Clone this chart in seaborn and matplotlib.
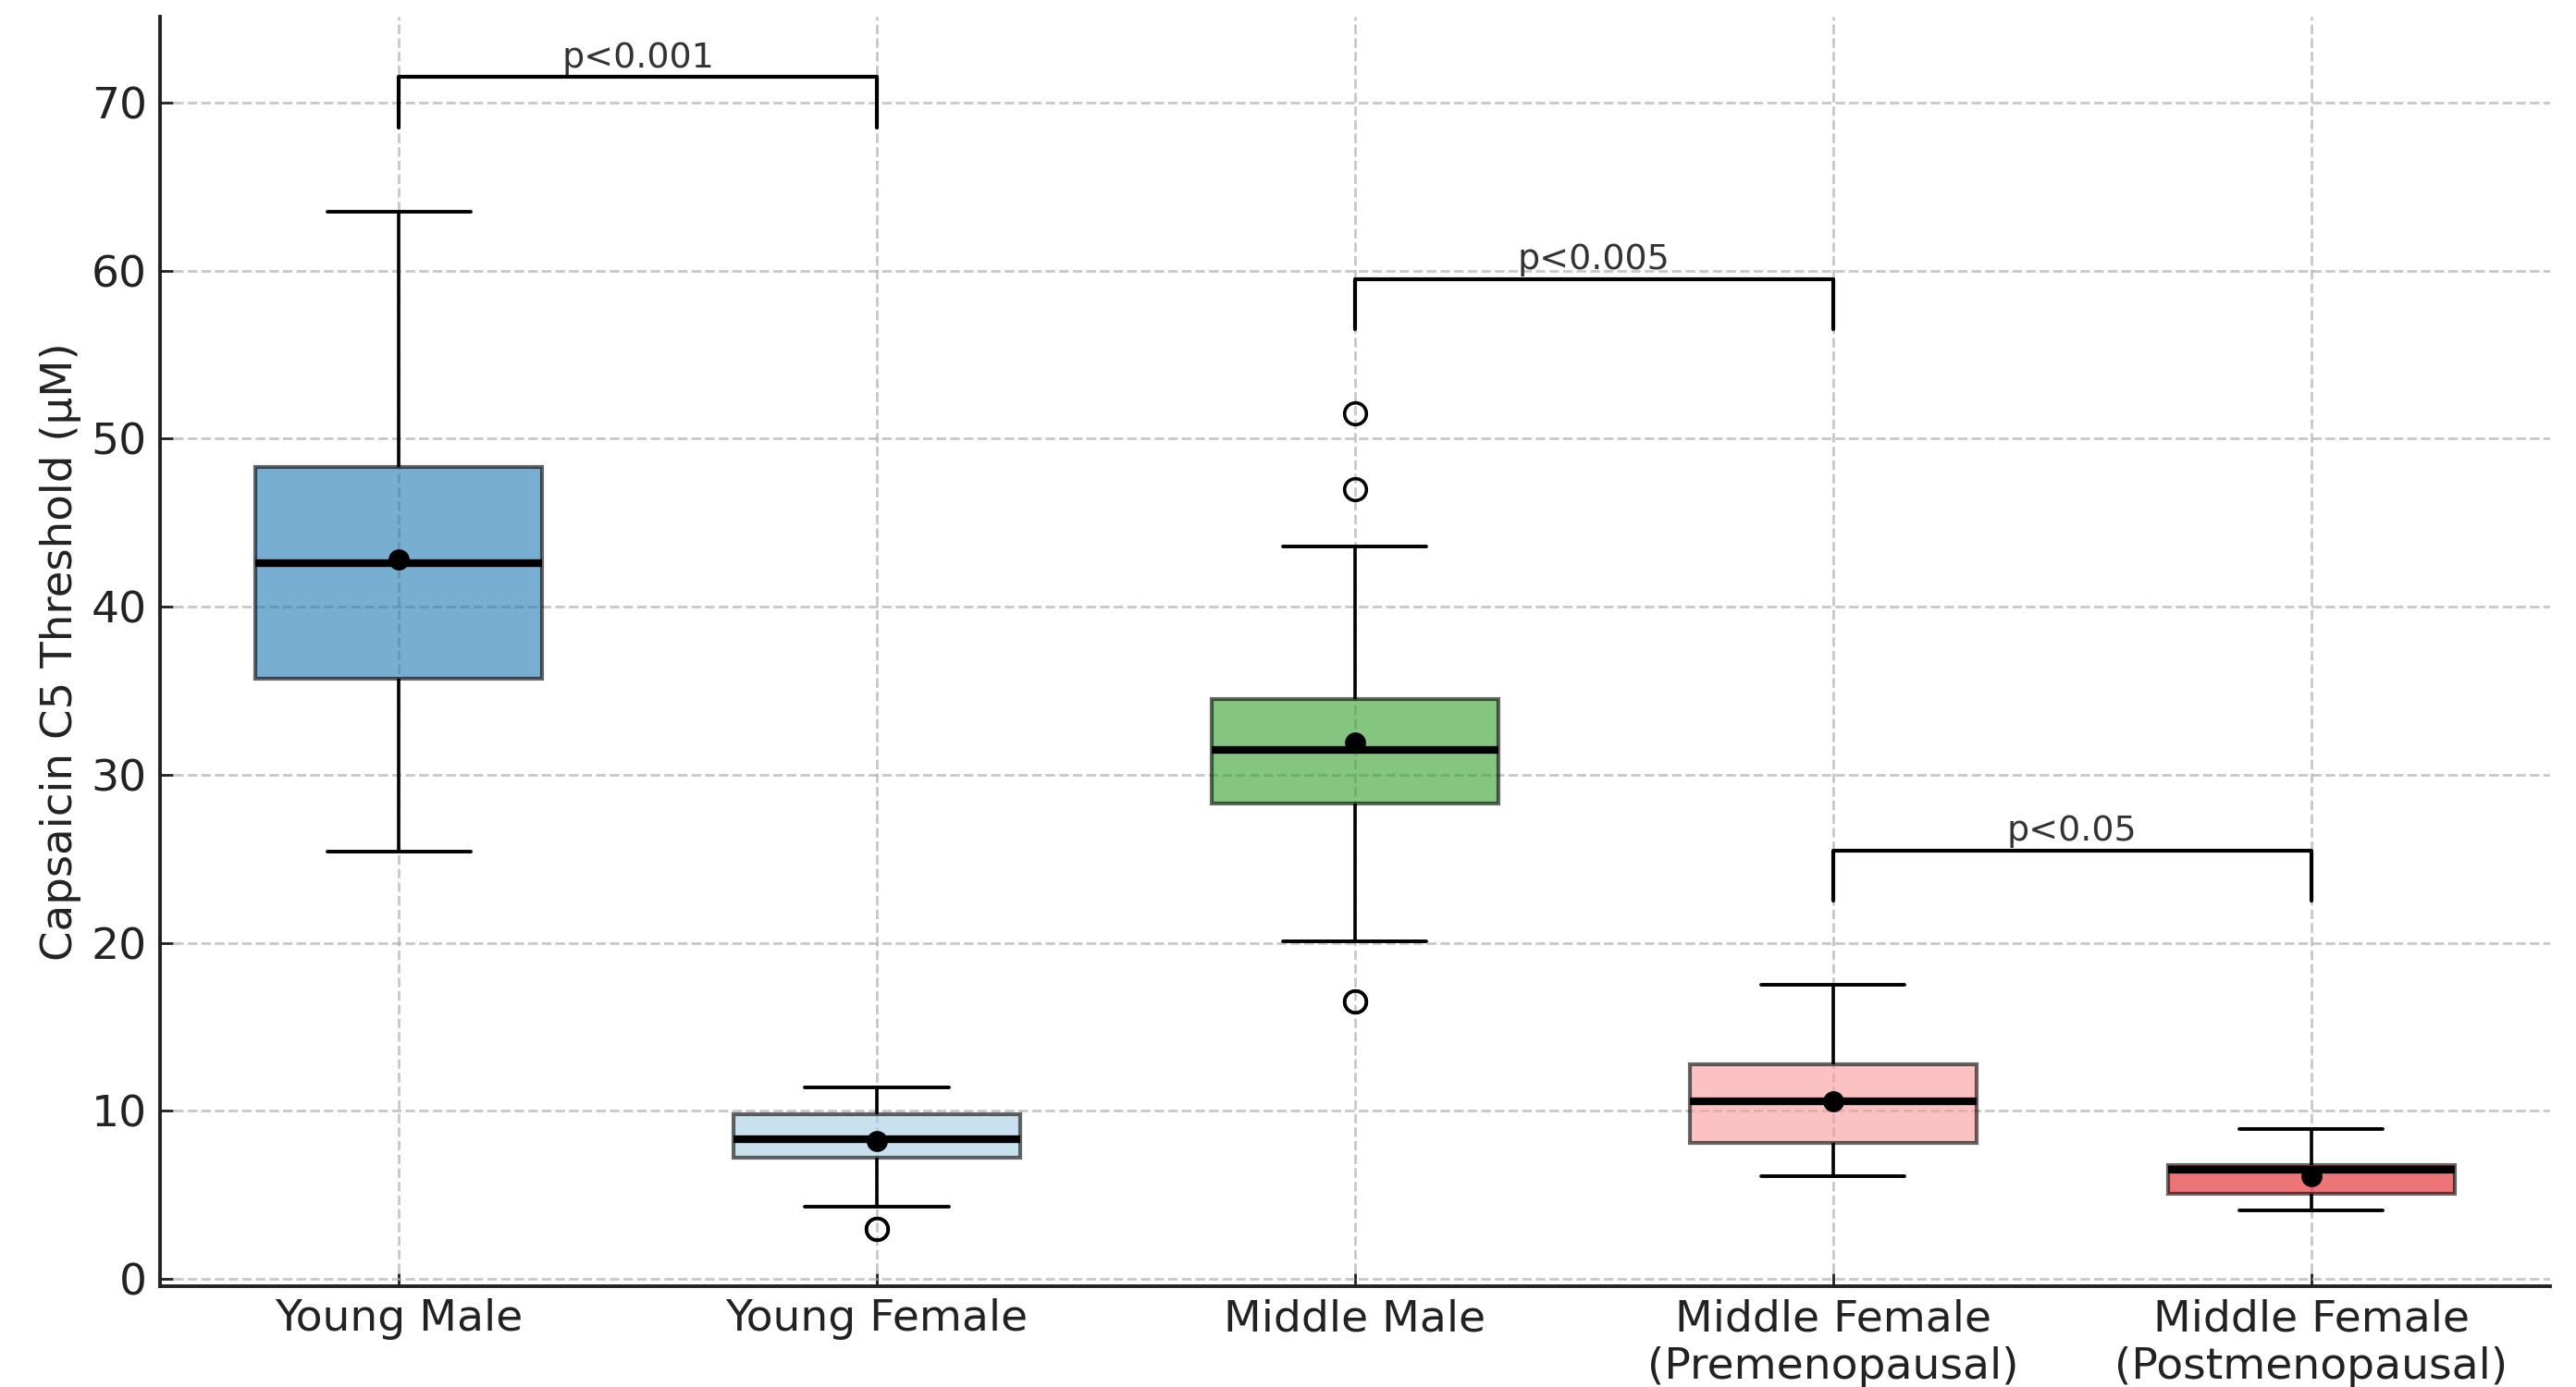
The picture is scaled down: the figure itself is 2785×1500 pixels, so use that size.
import numpy as np
import pandas as pd
import matplotlib
matplotlib.use("Agg")
import matplotlib.pyplot as plt
import seaborn as sns

# Summary statistics per group (Capsaicin C5 threshold, µM)
groups = ["Young Male", "Young Female", "Middle Male",
          "Middle Female\n(Premenopausal)", "Middle Female\n(Postmenopausal)"]
whisker_low = [25.4, 4.3, 20.1, 6.1, 4.1]
q1 = [35.7, 7.2, 28.3, 8.1, 5.1]
median = [42.6, 8.3, 31.5, 10.6, 6.5]
q3 = [48.3, 9.8, 34.5, 12.8, 6.8]
whisker_high = [63.5, 11.4, 43.6, 17.5, 8.9]
outliers = [[], [3.0], [16.5, 47.0, 51.5], [], []]
means = [42.8, 8.2, 31.9, 10.6, 6.1]

# Pairwise comparisons: (group a, group b, bracket height, label)
comparisons = [(0, 1, 71.5, "p<0.001"),
               (2, 3, 59.5, "p<0.005"),
               (3, 4, 25.5, "p<0.05")]
bracket_drop = 3.0

box_colors = ["#1f78b4", "#a6cee3", "#33a02c", "#fb9a99", "#e31a1c"]


def summary_sample(lo, a, m, b, hi, extra):
    """13 values whose quartiles, whiskers and fliers equal the given summary."""
    below = sorted([v for v in extra if v < a]) + [lo]
    above = [hi] + sorted([v for v in extra if v > b])
    below = [below[0]] * (3 - len(below)) + below
    above = above + [above[-1]] * (3 - len(above))
    return below + [a, a, m, m, m, b, b] + above


rows = []
for g, lo, a, m, b, hi, extra in zip(groups, whisker_low, q1, median, q3,
                                     whisker_high, outliers):
    for v in summary_sample(lo, a, m, b, hi, extra):
        rows.append({"group": g, "value": v})
df = pd.DataFrame(rows)

sns.set_theme(style="ticks")
plt.rcParams["font.family"] = ["DejaVu Sans"]

fig, ax = plt.subplots(figsize=(13.925, 7.5), dpi=200)
fig.subplots_adjust(left=0.062, right=0.990, bottom=0.073, top=0.988)

sns.boxplot(data=df, x="group", y="value", hue="group", order=groups,
            hue_order=groups, palette=box_colors, saturation=1, width=0.6,
            whis=1.5, legend=False, ax=ax, linecolor="black", linewidth=1.3,
            boxprops=dict(alpha=0.6, linewidth=1.5, edgecolor="black"),
            medianprops=dict(color="black", linewidth=3.0),
            whiskerprops=dict(color="black", linewidth=1.3),
            capprops=dict(color="black", linewidth=1.4),
            flierprops=dict(marker="o", markerfacecolor="none",
                            markeredgecolor="black", markersize=8.5,
                            markeredgewidth=1.3))

sns.stripplot(x=groups, y=means, order=groups, color="black", size=8.2,
              jitter=False, ax=ax, zorder=6)

# Significance brackets
for a, b, h, label in comparisons:
    ax.plot([a, a, b, b], [h - bracket_drop, h, h, h - bracket_drop],
            color="black", linewidth=1.5, zorder=4)
    ax.text((a + b) / 2, h + 0.15, label, ha="center", va="bottom",
            fontsize=13.7, color="#333333")

ax.set_xlim(-0.5, 4.5)
ax.set_ylim(-0.4, 75.1)
ax.set_yticks(np.arange(0, 71, 10))
ax.set_xlabel("")
ax.set_ylabel("Capsaicin C5 Threshold (µM)", fontsize=16.8, color="#222222")
ax.tick_params(axis="both", direction="in", length=5, width=1.0,
               labelsize=17, colors="#222222", pad=5)
ax.grid(True, linestyle="--", color="#b0b0b0", alpha=0.7, linewidth=1.0)
ax.set_axisbelow(True)
sns.despine(ax=ax)
for side in ("left", "bottom"):
    ax.spines[side].set_linewidth(1.4)
    ax.spines[side].set_color("#222222")

fig.savefig("out.png", dpi=200)
